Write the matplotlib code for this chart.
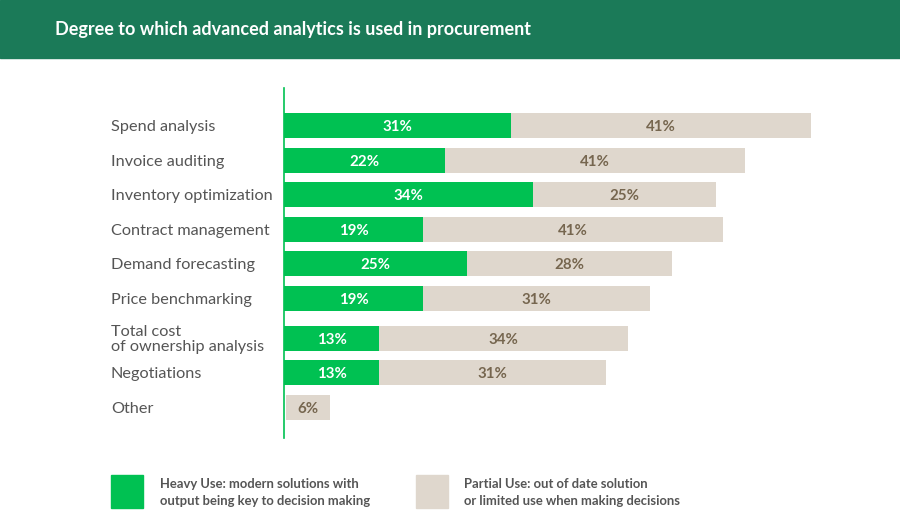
import matplotlib
matplotlib.use("Agg")
import matplotlib.pyplot as plt
import matplotlib.transforms as mtransforms
from matplotlib.patches import Rectangle

categories = ["Spend analysis", "Invoice auditing", "Inventory optimization",
              "Contract management", "Demand forecasting", "Price benchmarking",
              "Total cost\nof ownership analysis", "Negotiations", "Other"]
heavy = [31, 22, 34, 19, 25, 19, 13, 13, 0]
partial = [41, 41, 25, 41, 28, 31, 34, 31, 6]
legend_labels = ["Heavy Use: modern solutions with\noutput being key to decision making",
                 "Partial Use: out of date solution\nor limited use when making decisions"]
title = "Degree to which advanced analytics is used in procurement"

GREEN = "#00C152"
BEIGE = "#DFD7CD"
HEADER = "#1B7A58"
LABEL = "#555555"
PLABEL = "#76664F"
FONT = "Lato"

W, H = 900, 526
fig = plt.figure(figsize=(W / 100, H / 100), dpi=100)
fig.patch.set_facecolor("white")

def fx(px):
    return px / W

def fy(py):
    return 1 - py / H

# header band
fig.patches.append(Rectangle((0, fy(58)), 1, 58 / H, transform=fig.transFigure,
                             color=HEADER, zorder=0))
fig.text(fx(55), fy(29.5), title, color="white", fontsize=13, fontweight="bold",
         family=FONT, va="center", ha="left")

# axes
ax_left, ax_top, ax_bottom = 284, 88, 438
px_per_pct = 7.32
ax_w = 600
ax = fig.add_axes([fx(ax_left), fy(ax_bottom), fx(ax_w), (ax_bottom - ax_top) / H])
ax.set_xlim(0, ax_w / px_per_pct)
row_px = 34.5
top = -1.10
ax.set_ylim(top + (ax_bottom - ax_top) / row_px, top)

# positions: add extra gap before multi-line labels
ys = []
y = 0.0
for i, c in enumerate(categories):
    if i > 0:
        y += 1.0
        if "\n" in c:
            y += 0.15
    ys.append(y)

bh = 25 / row_px
toff = 1.5 / row_px  # small downward nudge for text centering
for yi, h, p, c in zip(ys, heavy, partial, categories):
    if h > 0:
        ax.barh(yi, h, height=bh, color=GREEN, left=0)
        ax.text(h / 2, yi + toff, f"{h}%", color="white", fontsize=10.8, fontweight="bold",
                family=FONT, ha="center", va="center")
    start = h if h > 0 else 0.3
    ax.barh(yi, p, height=bh, color=BEIGE, left=start)
    ax.text(start + p / 2, yi + toff, f"{p}%", color=PLABEL, fontsize=10.8, fontweight="bold",
            family=FONT, ha="center", va="center")

trans = mtransforms.blended_transform_factory(fig.transFigure, ax.transData)
for yi, c in zip(ys, categories):
    ax.text(fx(111), yi + toff, c, transform=trans, color=LABEL, fontsize=11.7,
            family=FONT, ha="left", va="center", linespacing=1.1)

for s in ["top", "right", "bottom"]:
    ax.spines[s].set_visible(False)
ax.spines["left"].set_color(GREEN)
ax.spines["left"].set_linewidth(1.2)
ax.set_xticks([])
ax.set_yticks([])
ax.patch.set_alpha(0)

# legend
for (x0, tx), col, lab in zip([(111, 160), (416, 464)], [GREEN, BEIGE], legend_labels):
    fig.patches.append(Rectangle((fx(x0), fy(508)), fx(32), 33 / H,
                                 transform=fig.transFigure, color=col))
    fig.text(fx(tx), fy(492.5), lab, color=LABEL, fontsize=9.4, fontweight="bold",
             family=FONT, ha="left", va="center", linespacing=1.45)

fig.savefig("out.png", dpi=100, facecolor="white")
